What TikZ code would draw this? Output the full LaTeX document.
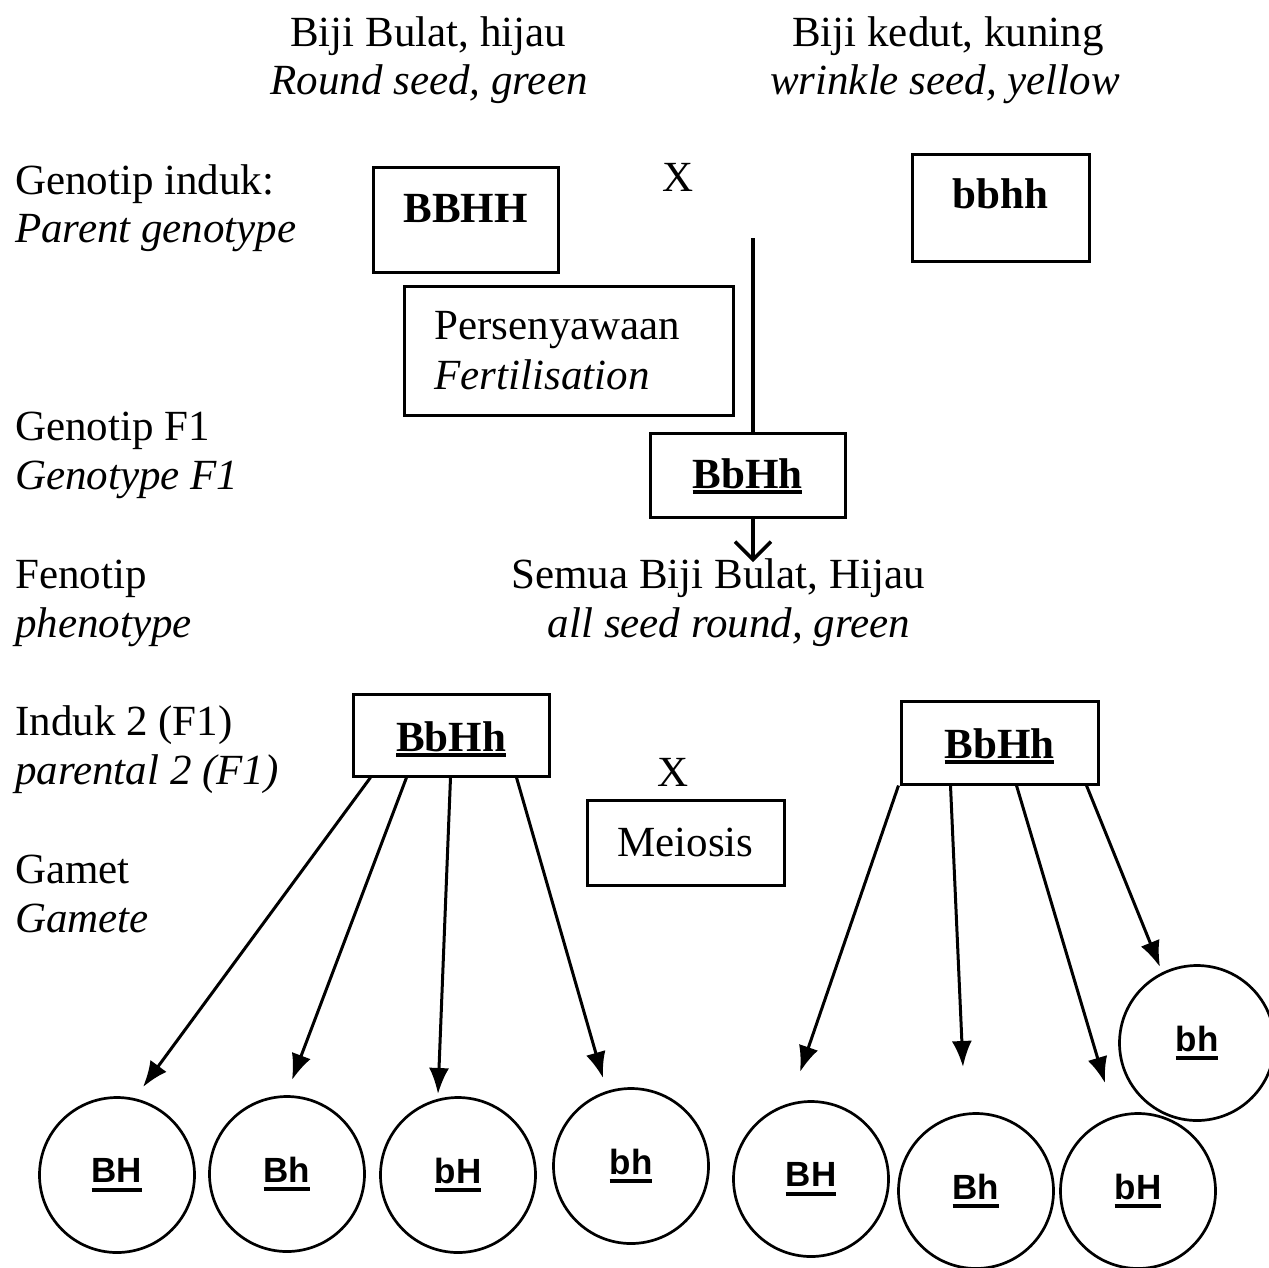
\documentclass[tikz,border=0pt]{standalone}
\usepackage{fontspec}
\setmainfont{Liberation Serif}
\newfontfamily\gsans{Liberation Sans}
\usetikzlibrary{arrows.meta}
\newcommand\ulbox[3]{\setbox0\hbox{#3}\rlap{\rule[-#1]{\wd0}{#2}}\box0}
\tikzset{
  every node/.style={font=\fontsize{43}{50}\selectfont, inner sep=0pt},
  lbl/.style={anchor=base west},
  ctr/.style={anchor=base},
  gbox/.style={draw, line width=3pt, anchor=base, inner sep=0pt},
  gam/.style={circle, draw, line width=2.7pt, minimum size=155pt, inner sep=0pt,
    font=\gsans\bfseries\fontsize{35}{38}\selectfont},
  arr/.style={line width=3pt, -{Latex[length=26pt,width=20pt]}},
  mainline/.style={line width=3.5pt},
}
\begin{document}
\begin{tikzpicture}[x=1pt,y=-1pt]
\useasboundingbox (0,0) rectangle (1269,1267);
% header
\node[ctr] (h1a) at (428,46) {Biji Bulat, hijau};
\node[ctr] (h1b) at (429,94) {\itshape Round seed, green};
\node[ctr] (h2a) at (948,46) {Biji kedut, kuning};
\node[ctr] (h2b) at (945,94) {\itshape wrinkle seed, yellow};
% left labels
\node[lbl] (l1a) at (15,194) {Genotip induk:};
\node[lbl] (l1b) at (15,242) {\itshape Parent genotype};
\node[lbl] (l2a) at (15,440) {Genotip F1};
\node[lbl] (l2b) at (15,489) {\itshape Genotype F1};
\node[lbl] (l3a) at (15,588) {Fenotip};
\node[lbl] (l3b) at (15,637) {\itshape phenotype};
\node[lbl] (l4a) at (15,735) {Induk 2 (F1)};
\node[lbl] (l4b) at (15,784) {\itshape parental 2 (F1)};
\node[lbl] (l5a) at (15,883) {Gamet};
\node[lbl] (l5b) at (15,932) {\itshape Gamete};
% parents
\node[gbox, minimum width=185pt, text height=55pt, text depth=50pt] (p1) at (465.5,222) {\bfseries BBHH};
\node[ctr] (x1) at (678,191) {X};
\node[gbox, minimum width=177pt, text height=54pt, text depth=53pt] (p2) at (1000.5,208) {\bfseries bbhh};
% fertilisation
\node[draw, line width=3pt, anchor=north west, minimum width=329pt, minimum height=129pt,
  text width=269pt, align=left, inner xsep=30pt] (fert) at (403,285)
  {Persenyawaan\\\itshape Fertilisation};
% F1
\node[gbox, minimum width=195pt, text height=55pt, text depth=29pt] (f1) at (747.5,488) {\bfseries\ulbox{6pt}{4pt}{BbHh}};
\coordinate (vtop) at (753,238);
\coordinate (vtip) at (753,562);
\draw[mainline] (vtop) -- (vtop |- f1.north);
\draw[mainline, -{Straight Barb[length=18pt,width=36pt]}] (vtop |- f1.south) -- (vtip);
\node[ctr] (ph1) at (718,588) {Semua Biji Bulat, Hijau};
\node[ctr] (ph2) at (729,637) {\itshape all seed round, green};
% F1 x F1
\node[gbox, minimum width=196pt, text height=57pt, text depth=25pt] (b2) at (451,751) {\bfseries\ulbox{6pt}{4pt}{BbHh}};
\node[ctr] (x2) at (673,786) {X};
\node[draw, line width=3pt, minimum width=197pt, minimum height=85pt] (mei) at (685.5,842.5) {Meiosis};
\node[gbox, minimum width=197pt, text height=57pt, text depth=26pt] (b3) at (999.5,758) {\bfseries\ulbox{6pt}{4pt}{BbHh}};
% gametes left
\node[gam] (g1) at (117,1175) {\ulbox{9pt}{4pt}{BH}};
\node[gam] (g2) at (287,1174) {\ulbox{9pt}{4pt}{Bh}};
\node[gam] (g3) at (458,1175) {\ulbox{9pt}{4pt}{bH}};
\node[gam] (g4) at (631,1166) {\ulbox{9pt}{4pt}{bh}};
% gametes right
\node[gam] (g5) at (811,1179) {\ulbox{9pt}{4pt}{BH}};
\node[gam] (g6) at (976,1191) {\ulbox{9pt}{4pt}{Bh}};
\node[gam] (g7) at (1138,1191) {\ulbox{9pt}{4pt}{bH}};
\node[gam] (g8) at (1197,1043) {\ulbox{9pt}{4pt}{bh}};
% arrow tips
\coordinate (t1) at (143,1087);
\coordinate (t2) at (292,1080);
\coordinate (t3) at (438,1094);
\coordinate (t4) at (603,1078);
\coordinate (t5) at (800,1072);
\coordinate (t6) at (963,1067);
\coordinate (t7) at (1105,1083);
\coordinate (t8) at (1160,967);
\draw[arr] ([xshift=19pt]b2.south west) -- (t1);
\draw[arr] ([xshift=55pt]b2.south west) -- (t2);
\draw[arr] ([xshift=99pt]b2.south west) -- (t3);
\draw[arr] ([xshift=165pt]b2.south west) -- (t4);
\draw[arr] ([xshift=-1pt]b3.south west) -- (t5);
\draw[arr] ([xshift=51pt]b3.south west) -- (t6);
\draw[arr] ([xshift=117pt]b3.south west) -- (t7);
\draw[arr] ([xshift=187pt]b3.south west) -- (t8);
\end{tikzpicture}
\end{document}
